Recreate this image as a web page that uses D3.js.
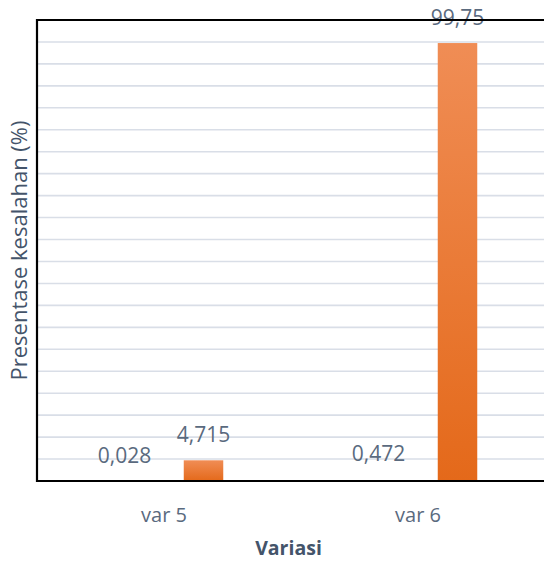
<!DOCTYPE html>
<html><head><meta charset="utf-8">
<script src="https://cdn.jsdelivr.net/npm/d3@7"></script>
<style>html,body{margin:0;padding:0;background:#fff;}svg{display:block;}</style>
</head><body>
<svg id="chart" width="544" height="563"></svg>
<script>
const categories = ["var 5", "var 6"];
const seriesNames = ["Series1", "Series2", "Series3"];
const series1Values = [0.028, 0.472];
const series2Values = [null, null];
const series3Values = [4.715, 99.75];
const yTicks = d3.range(0, 106, 5);
const xTitle = "Variasi";
const yTitle = "Presentase kesalahan (%)";

const svg = d3.select("#chart");
const W = 544, H = 563;
const m = {left: 37, right: -1, top: 20, bottom: 82};
const x0 = d3.scaleBand().domain(categories).range([m.left, W - m.right]).paddingInner(0).paddingOuter(0);
const barW = 39.5;
const clusterW = barW * seriesNames.length;
const x1 = d3.scaleBand().domain(seriesNames)
  .range([(x0.bandwidth() - clusterW) / 2, (x0.bandwidth() + clusterW) / 2]).padding(0);
const y = d3.scaleLinear().domain([0, 105]).range([H - m.bottom, m.top]);

const defs = svg.append("defs");
const g = defs.append("linearGradient").attr("id", "og").attr("x1", 0).attr("y1", 0).attr("x2", 0).attr("y2", 1);
g.append("stop").attr("offset", "0%").attr("stop-color", "#F08D55");
g.append("stop").attr("offset", "100%").attr("stop-color", "#E4691A");

// gridlines
svg.append("g").selectAll("line").data(yTicks.filter(t => t > 0 && t < 105)).join("line")
  .attr("x1", m.left).attr("x2", W)
  .attr("y1", d => y(d)).attr("y2", d => y(d))
  .attr("stroke", "#D9DEE7").attr("stroke-width", 1.6);

const rows = [];
categories.forEach((c, i) => {
  [series1Values, series2Values, series3Values].forEach((vals, s) => {
    if (vals[i] != null) rows.push({cat: c, series: seriesNames[s], value: vals[i]});
  });
});

svg.append("g").selectAll("rect").data(rows).join("rect")
  .attr("x", d => x0(d.cat) + x1(d.series))
  .attr("width", x1.bandwidth())
  .attr("y", d => y(d.value))
  .attr("height", d => y(0) - y(d.value))
  .attr("fill", d => d.series === "Series3" ? "url(#og)" : "none");

const fmt = v => String(v).replace(".", ",");
svg.append("g").selectAll("text").data(rows).join("text")
  .attr("x", d => x0(d.cat) + x1(d.series) + x1.bandwidth() / 2)
  .attr("y", d => y(d.value) - 18)
  .attr("text-anchor", "middle")
  .attr("font-family", "'Open Sans', sans-serif")
  .attr("font-size", 21)
  .attr("fill", "#5A6A7E")
  .text(d => fmt(d.value));

// frame (left, top, bottom)
svg.append("path")
  .attr("d", `M${W + 2},${m.top} H${m.left} V${y(0)} H${W + 2}`)
  .attr("fill", "none").attr("stroke", "#000").attr("stroke-width", 2.2);

// x axis labels
const xAxis = d3.axisBottom(x0).tickSize(0).tickPadding(0);
const xa = svg.append("g").attr("transform", `translate(0,${y(0)})`).call(xAxis);
xa.select(".domain").remove();
xa.selectAll("text").attr("dy", null).attr("y", 41)
  .attr("font-family", "'Open Sans', sans-serif").attr("font-size", 20).attr("fill", "#5A6A7E");

svg.append("text").attr("x", (m.left + W) / 2 - 2).attr("y", 555)
  .attr("text-anchor", "middle").attr("font-family", "'Open Sans', sans-serif")
  .attr("font-weight", "bold").attr("font-size", 19.5).attr("fill", "#44546A").text(xTitle);

svg.append("text").attr("transform", `translate(27,${(m.top + y(0)) / 2}) rotate(-90)`)
  .attr("text-anchor", "middle").attr("font-family", "'Open Sans', sans-serif")
  .attr("font-size", 22).attr("fill", "#44546A").text(yTitle);
</script>
</body></html>
